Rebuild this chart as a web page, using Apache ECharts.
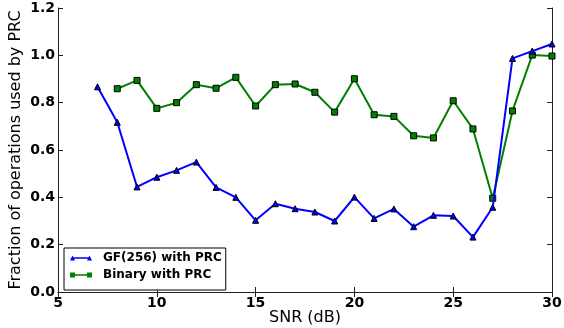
<!DOCTYPE html>
<html>
<head>
<meta charset="utf-8">
<script src="https://cdn.jsdelivr.net/npm/echarts@6/dist/echarts.min.js"></script>
<style>html,body{margin:0;padding:0;background:#fff}#c{width:564px;height:328px}</style>
</head>
<body>
<div id="c"></div>
<script>
var gfSnr = [7,8,9,10,11,12,13,14,15,16,17,18,19,20,21,22,23,24,25,26,27,28,29,30];
var gfValues = [0.867,0.717,0.444,0.485,0.514,0.549,0.442,0.400,0.303,0.373,0.352,0.338,0.300,0.401,0.311,0.351,0.276,0.324,0.321,0.232,0.358,0.987,1.018,1.048];
var binSnr = [8,9,10,11,12,13,14,15,16,17,18,19,20,21,22,23,24,25,26,27,28,29,30];
var binValues = [0.859,0.894,0.776,0.800,0.876,0.861,0.907,0.786,0.876,0.879,0.844,0.760,0.901,0.749,0.742,0.660,0.651,0.808,0.689,0.396,0.765,1.001,0.997];
var xTicks = [5,10,15,20,25,30];
var yTicks = [0.0,0.2,0.4,0.6,0.8,1.0,1.2];
var seriesNames = ['GF(256) with PRC','Binary with PRC'];

function pairs(xs, ys){ return xs.map(function(x,i){ return [x, ys[i]]; }); }
var font = 'DejaVu Sans';
var chart = echarts.init(document.getElementById('c'), null, {renderer:'canvas'});
var axisLine = {show:true, lineStyle:{color:'#222', width:1}};
var tick = {show:true, inside:true, length:5, lineStyle:{color:'#222', width:1}};
chart.setOption({
  animation:false,
  backgroundColor:'#fff',
  grid:{left:58, right:12, top:8, bottom:36, containLabel:false, outerBoundsMode:'none'},
  xAxis:[{
    type:'value', min:xTicks[0], max:xTicks[xTicks.length-1], interval:5,
    position:'bottom',
    name:'SNR (dB)', nameLocation:'middle', nameGap:18, nameMoveOverlap:false,
    nameTextStyle:{fontFamily:font, fontSize:16, color:'#000'},
    axisLine:axisLine, axisTick:tick, splitLine:{show:false},
    axisLabel:{fontFamily:font, fontSize:14, fontWeight:'bold', color:'#000', margin:4}
  },{
    type:'value', min:xTicks[0], max:xTicks[xTicks.length-1], interval:5,
    position:'top', axisLine:axisLine, axisTick:tick, splitLine:{show:false},
    axisLabel:{show:false}
  }],
  yAxis:[{
    type:'value', min:yTicks[0], max:yTicks[yTicks.length-1], interval:0.2,
    position:'left',
    name:'Fraction of operations used by PRC', nameLocation:'middle', nameGap:34, nameMoveOverlap:false,
    nameTextStyle:{fontFamily:font, fontSize:16, color:'#000'},
    axisLine:axisLine, axisTick:tick, splitLine:{show:false},
    axisLabel:{fontFamily:font, fontSize:14, fontWeight:'bold', color:'#000', margin:3,
      formatter:function(v){ return v.toFixed(1); }}
  },{
    type:'value', min:yTicks[0], max:yTicks[yTicks.length-1], interval:0.2,
    position:'right', axisLine:axisLine, axisTick:tick, splitLine:{show:false},
    axisLabel:{show:false}
  }],
  legend:{
    orient:'vertical', left:64, top:248,
    padding:[4,4,9,6],
    borderColor:'#000', borderWidth:1, borderRadius:0,
    backgroundColor:'#fff',
    itemWidth:22, itemHeight:5, itemGap:5,
    itemStyle:{borderWidth:0},
    textStyle:{fontFamily:font, fontSize:12, fontWeight:'bold', color:'#000', lineHeight:12,
      rich:{n:{fontFamily:font, fontSize:12, fontWeight:'bold', color:'#000', padding:[0,0,0,6]}}},
    formatter:function(n){ return '{n|' + n + '}'; },
    data:[
      {name:seriesNames[0], icon:'path://M0,5 L2.5,0 L5,5 Z M17,5 L19.5,0 L22,5 Z M2,1.7 L20,1.7 L20,3.3 L2,3.3 Z', itemStyle:{color:'#0000ff', borderWidth:0}},
      {name:seriesNames[1], icon:'path://M0,0 L5,0 L5,5 L0,5 Z M17,0 L22,0 L22,5 L17,5 Z M2,1.7 L20,1.7 L20,3.3 L2,3.3 Z', itemStyle:{color:'#008000', borderWidth:0}}
    ]
  },
  series:[{
    name:seriesNames[0], type:'line', data:pairs(gfSnr, gfValues),
    symbol:'triangle', symbolSize:6,
    lineStyle:{color:'#0000ff', width:2},
    itemStyle:{color:'#0000ff', borderColor:'#000', borderWidth:1},
    z:3
  },{
    name:seriesNames[1], type:'line', data:pairs(binSnr, binValues),
    symbol:'rect', symbolSize:6,
    lineStyle:{color:'#008000', width:2},
    itemStyle:{color:'#008000', borderColor:'#000', borderWidth:1},
    z:2
  }]
});
</script>
</body>
</html>
